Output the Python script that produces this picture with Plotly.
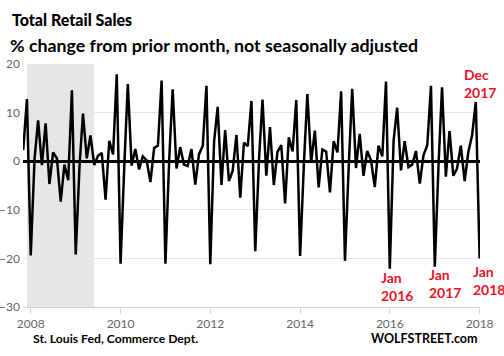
import pandas as pd
import plotly.graph_objects as go

# ---- data ----
start_month = "2007-10-01"
vals_2007 = [4.5, 2.3, 12.8]  # Oct, Nov, Dec 2007
vals_2008 = [-19.4, 0.5, 8.4, -0.8, 7.8, -4.7, 1.8, 0.6, -8.3, -0.7, -3.9, 14.6]
vals_2009 = [-19.2, -1.0, 9.8, 0.6, 5.3, -0.8, 1.1, 1.7, -7.9, 4.2, 1.4, 17.9]
vals_2010 = [-21.1, -0.5, 15.9, -0.9, 2.5, -1.7, 1.0, 0.2, -4.3, 2.7, 3.2, 16.6]
vals_2011 = [-21.1, 0.5, 14.8, -1.5, 2.9, -0.7, -1.0, 2.5, -4.8, 1.4, 3.2, 15.5]
vals_2012 = [-21.2, 4.0, 11.2, -4.9, 6.4, -4.1, -2.0, 5.4, -7.5, 3.8, 3.1, 12.4]
vals_2013 = [-18.5, 0.5, 12.7, -3.0, 7.0, -4.9, 1.9, 3.3, -8.7, 4.9, 2.0, 12.6]
vals_2014 = [-19.5, -0.5, 13.8, -0.2, 6.3, -5.4, 2.4, 2.0, -6.4, 4.1, 1.8, 14.4]
vals_2015 = [-20.5, -1.0, 14.9, -1.4, 5.6, -3.0, 2.1, 0.2, -5.3, 3.2, 1.0, 16.4]
vals_2016 = [-22.1, 4.3, 11.0, -1.9, 4.1, -1.2, -0.7, 2.1, -4.6, 1.2, 3.3, 15.5]
vals_2017 = [-21.7, -0.5, 15.2, -3.2, 6.2, -3.0, -1.5, 3.2, -4.1, 1.9, 5.4, 12.2]
vals_2018 = [-20.0]

values = (vals_2007 + vals_2008 + vals_2009 + vals_2010 + vals_2011 + vals_2012
          + vals_2013 + vals_2014 + vals_2015 + vals_2016 + vals_2017 + vals_2018)
dates = pd.date_range(start_month, periods=len(values), freq="MS")

recession_start = "2007-12-01"
recession_end = "2009-06-01"
year_ticks = ["2008", "2010", "2012", "2014", "2016", "2018"]

title_text = "Total Retail Sales"
subtitle_text = "% change from prior month, not seasonally adjusted"
source_text = "St. Louis Fed, Commerce Dept."
brand_text = "WOLFSTREET.com"
callouts = [("Dec<br>2017", 462, 83), ("Jan<br>2016", 379, 286),
            ("Jan<br>2017", 427, 283), ("Jan<br>2018", 470.5, 280)]

# ---- layout geometry ----
W, H = 504, 356
ML, MR, MT, MB = 23.3, 24.4, 64, 49.3
PW, PH = W - ML - MR, H - MT - MB


def px(x):
    return (x - ML) / PW


def py(y):
    return 1 - (y - MT) / PH


FONT = "Lato"
RED = "#e8142c"

fig = go.Figure()
fig.add_trace(go.Scatter(x=dates, y=values, mode="lines",
                         line=dict(color="black", width=2.5),
                         hoverinfo="skip", showlegend=False))

fig.add_shape(type="rect", xref="x", yref="paper", x0=recession_start, x1=recession_end,
              y0=0, y1=1, fillcolor="#e6e6e6", line_width=0, layer="below")

tickvals = [pd.Timestamp(f"{y}-01-01") for y in year_ticks]
fig.update_xaxes(type="date", range=["2007-10-30", "2018-01-04"], automargin=False,
                 tickvals=tickvals, ticktext=year_ticks,
                 showgrid=False, zeroline=False,
                 showline=True, linecolor="#ccd6eb", linewidth=1,
                 ticks="outside", ticklen=6, tickcolor="#ccd6eb", tickwidth=1,
                 tickfont=dict(family=FONT, size=12, color="#666666"))
fig.update_yaxes(range=[-30, 20], dtick=10, tick0=0, automargin=False,
                 showgrid=True, gridcolor="#e6e6e6", gridwidth=1,
                 zeroline=True, zerolinecolor="black", zerolinewidth=2.5,
                 showline=False, ticks="", ticklabelstandoff=2,
                 tickfont=dict(family=FONT, size=12, color="#666666"))

ann = []
ann.append(dict(text=title_text, x=px(10.5), y=py(20), xanchor="left", yanchor="middle",
                font=dict(family=FONT, size=16, color="black", weight=900)))
ann.append(dict(text=subtitle_text, x=px(8.5), y=py(45), xanchor="left", yanchor="middle",
                font=dict(family=FONT, size=17.8, color="black", weight=700)))
ann.append(dict(text=source_text, x=px(31), y=py(338), xanchor="left", yanchor="middle",
                font=dict(family=FONT, size=12.2, color="black", weight=700)))
ann.append(dict(text=brand_text, x=px(479.5), y=py(338), xanchor="right", yanchor="middle",
                font=dict(family=FONT, size=12.5, color="black", weight=700)))
for txt, x, y in callouts:
    ann.append(dict(text=txt, x=px(x), y=py(y), xanchor="left", yanchor="middle",
                    align="left", font=dict(family=FONT, size=14, color=RED, weight=700)))
for a in ann:
    a.update(xref="paper", yref="paper", showarrow=False)

fig.update_layout(width=W, height=H, autosize=False,
                  margin=dict(l=ML, r=MR, t=MT, b=MB, pad=0),
                  paper_bgcolor="white", plot_bgcolor="white",
                  annotations=ann, showlegend=False)

fig.write_html("out.html", config={"displayModeBar": False},
               post_script="document.body.style.margin='0px';document.body.style.overflow='hidden';")
